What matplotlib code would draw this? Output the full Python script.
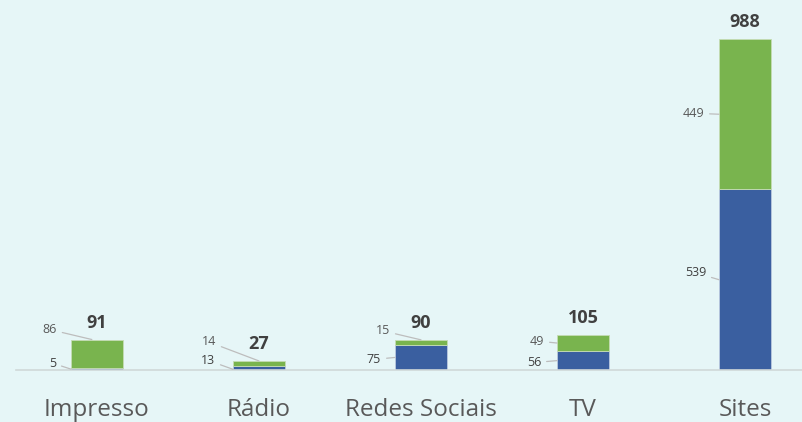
import matplotlib.pyplot as plt

plt.rcParams['font.family'] = ['Open Sans', 'DejaVu Sans']

categorias = ['Impresso', 'Rádio', 'Redes Sociais', 'TV', 'Sites']
azul = [5, 13, 75, 56, 539]
verde = [86, 14, 15, 49, 449]
totais = [91, 27, 90, 105, 988]

# deslocamentos dos rótulos (pixels): (ancora_x, modo, dx, dy)
rot_azul = [(-0.5, 'mid', -15, 6), (-0.5, 'low', -18, 9), (-0.5, 'mid', -14, -2),
            (-0.5, 'mid', -16, -2), (-0.5, 'mid', -13, 7)]
rot_verde = [(-0.05, 'top', -35, 10), (0.0, 'top', -43, 19), (0.0, 'top', -31, 9),
             (-0.5, 'mid', -13, 2), (-0.5, 'mid', -15, 1)]

fundo = '#e6f6f7'
cor_azul = '#3a5fa0'
cor_verde = '#79b44e'

fig = plt.figure(figsize=(8.03, 4.22), dpi=100, facecolor=fundo)
ax = fig.add_axes([16 / 803, 52 / 422, 810 / 803, 335 / 422])
ax.set_facecolor(fundo)

x = list(range(len(categorias)))
w = 0.32
ax.bar(x, azul, width=w, color=cor_azul, edgecolor='#b9c9df', linewidth=0.6, zorder=2)
ax.bar(x, verde, width=w, bottom=azul, color=cor_verde, edgecolor='#c5dcb5', linewidth=0.6, zorder=2)

linha = dict(arrowstyle='-', color='#bdbdbd', lw=0.9, shrinkA=2, shrinkB=0)


def ancora(i, base, valor, modo, fx):
    if modo == 'mid':
        y = base + valor / 2
    elif modo == 'low':
        y = base + 2
    else:
        y = base + valor
    return (i + fx * w * 2 if fx != -0.5 else i - w / 2, y)


for i in x:
    fx, modo, dx, dy = rot_azul[i]
    ax.annotate(str(azul[i]), xy=ancora(i, 0, azul[i], modo, fx), xytext=(dx, dy),
                textcoords='offset pixels', ha='right', va='center', fontsize=9,
                color='#404040', arrowprops=linha)
    fx, modo, dx, dy = rot_verde[i]
    ax.annotate(str(verde[i]), xy=ancora(i, azul[i], verde[i], modo, fx), xytext=(dx, dy),
                textcoords='offset pixels', ha='right', va='center', fontsize=9,
                color='#595959', arrowprops=linha)
    ax.annotate(str(totais[i]), xy=(i, totais[i]), xytext=(0, 8), textcoords='offset pixels',
                ha='center', va='bottom', fontsize=13, fontweight='bold', color='#404040')

ax.set_xlim(-0.5, 4.5)
ax.set_ylim(0, 1000)
ax.set_xticks(x)
ax.set_xticklabels(categorias, fontsize=17.5, color='#595959')
ax.tick_params(axis='x', length=0, pad=20)
ax.set_yticks([])
for s in ['top', 'right', 'left']:
    ax.spines[s].set_visible(False)
ax.spines['bottom'].set_color('#d0d8d8')
ax.spines['bottom'].set_linewidth(1.2)

fig.savefig('out.png', dpi=100, facecolor=fundo)
